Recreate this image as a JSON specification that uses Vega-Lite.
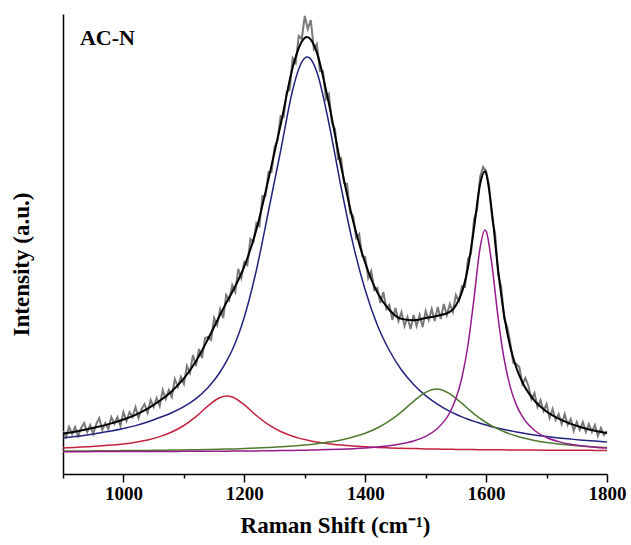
{
  "$schema": "https://vega.github.io/schema/vega-lite/v6.json",
  "width": 544,
  "height": 460,
  "autosize": {"type": "none"},
  "padding": {"left": 63, "top": 14, "right": 24, "bottom": 71},
  "background": "white",
  "config": {"view": {"stroke": null}, "font": "Liberation Serif"},
  "datasets": {
    "fit": [
      {"x":900,"Blue":36,"Red":26.1,"Green":23,"Purple":22.3,"Fit":40.4},
      {"x":920,"Blue":37.4,"Red":26.6,"Green":23,"Purple":22.3,"Fit":42.3},
      {"x":940,"Blue":39,"Red":27.2,"Green":23.1,"Purple":22.35,"Fit":44.7},
      {"x":960,"Blue":41,"Red":27.9,"Green":23.2,"Purple":22.4,"Fit":47.5},
      {"x":980,"Blue":43,"Red":28.9,"Green":23.3,"Purple":22.4,"Fit":50.6},
      {"x":1000,"Blue":45.5,"Red":30.1,"Green":23.4,"Purple":22.45,"Fit":54.5},
      {"x":1020,"Blue":48.4,"Red":31.8,"Green":23.5,"Purple":22.5,"Fit":59.2},
      {"x":1040,"Blue":52,"Red":34.1,"Green":23.6,"Purple":22.55,"Fit":65.3},
      {"x":1060,"Blue":56.5,"Red":37.4,"Green":23.7,"Purple":22.55,"Fit":73.2},
      {"x":1080,"Blue":61.3,"Red":42,"Green":23.9,"Purple":22.6,"Fit":82.8},
      {"x":1100,"Blue":67.3,"Red":48.5,"Green":24.1,"Purple":22.65,"Fit":95.6},
      {"x":1120,"Blue":75.4,"Red":57.4,"Green":24.3,"Purple":22.7,"Fit":112.8},
      {"x":1140,"Blue":86.6,"Red":68.1,"Green":24.5,"Purple":22.8,"Fit":135},
      {"x":1160,"Blue":102,"Red":76.5,"Green":24.8,"Purple":22.85,"Fit":159.2},
      {"x":1171,"Blue":113.3,"Red":78,"Green":25,"Purple":22.85,"Fit":172.1},
      {"x":1180,"Blue":124,"Red":77,"Green":25.1,"Purple":22.9,"Fit":182},
      {"x":1200,"Blue":157,"Red":69.1,"Green":25.5,"Purple":23,"Fit":207.6},
      {"x":1220,"Blue":204,"Red":58.5,"Green":25.9,"Purple":23.1,"Fit":244.5},
      {"x":1240,"Blue":263,"Red":49.3,"Green":26.5,"Purple":23.25,"Fit":295},
      {"x":1260,"Blue":323,"Red":42.5,"Green":27.2,"Purple":23.4,"Fit":349},
      {"x":1280,"Blue":384,"Red":37.8,"Green":28,"Purple":23.6,"Fit":406.4},
      {"x":1290,"Blue":405,"Red":35.9,"Green":28.45,"Purple":23.7,"Fit":426},
      {"x":1300,"Blue":416,"Red":34.4,"Green":29,"Purple":23.8,"Fit":436.2},
      {"x":1304,"Blue":417,"Red":33.9,"Green":29.2,"Purple":23.85,"Fit":437},
      {"x":1310,"Blue":414.8,"Red":33.1,"Green":29.6,"Purple":23.9,"Fit":434.4},
      {"x":1320,"Blue":402,"Red":32,"Green":30.3,"Purple":24.1,"Fit":421.4},
      {"x":1340,"Blue":350.5,"Red":30.3,"Green":31.9,"Purple":24.4,"Fit":370},
      {"x":1360,"Blue":287,"Red":29,"Green":34.1,"Purple":24.8,"Fit":308},
      {"x":1380,"Blue":229.6,"Red":28,"Green":37,"Purple":25.35,"Fit":253},
      {"x":1400,"Blue":184,"Red":27.2,"Green":40.8,"Purple":26.05,"Fit":211},
      {"x":1420,"Blue":149,"Red":26.6,"Green":46,"Purple":27,"Fit":181.6},
      {"x":1440,"Blue":123.5,"Red":26.1,"Green":53.1,"Purple":28.3,"Fit":164},
      {"x":1460,"Blue":104,"Red":25.7,"Green":62.2,"Purple":30.2,"Fit":155.1},
      {"x":1480,"Blue":89.6,"Red":25.4,"Green":72.7,"Purple":33,"Fit":153.7},
      {"x":1500,"Blue":78.4,"Red":25.1,"Green":81.7,"Purple":37.7,"Fit":155.9},
      {"x":1518,"Blue":70.4,"Red":24.9,"Green":85,"Purple":44.7,"Fit":158},
      {"x":1540,"Blue":62.7,"Red":24.7,"Green":80.2,"Purple":61.5,"Fit":162.1},
      {"x":1550,"Blue":59.8,"Red":24.6,"Green":75.7,"Purple":75.4,"Fit":168.5},
      {"x":1560,"Blue":57.1,"Red":24.5,"Green":70.6,"Purple":96.5,"Fit":181.7},
      {"x":1570,"Blue":54.7,"Red":24.45,"Green":65.3,"Purple":129,"Fit":206.5},
      {"x":1580,"Blue":52.6,"Red":24.4,"Green":60.2,"Purple":175.7,"Fit":245.9},
      {"x":1590,"Blue":50.7,"Red":24.35,"Green":55.6,"Purple":226.1,"Fit":289.8},
      {"x":1598,"Blue":49.2,"Red":24.3,"Green":52.3,"Purple":244,"Fit":302.8},
      {"x":1600,"Blue":48.9,"Red":24.3,"Green":51.5,"Purple":242.8,"Fit":300.5},
      {"x":1610,"Blue":47.3,"Red":24.25,"Green":47.9,"Purple":207.4,"Fit":259.9},
      {"x":1620,"Blue":45.8,"Red":24.2,"Green":44.9,"Purple":155.4,"Fit":203.3},
      {"x":1630,"Blue":44.4,"Red":24.15,"Green":42.2,"Purple":114.3,"Fit":158},
      {"x":1640,"Blue":43.2,"Red":24.1,"Green":39.9,"Purple":86.9,"Fit":127.1},
      {"x":1650,"Blue":42.1,"Red":24.05,"Green":38,"Purple":69.1,"Fit":106.3},
      {"x":1660,"Blue":41,"Red":24,"Green":36.3,"Purple":57.4,"Fit":91.7},
      {"x":1680,"Blue":39.1,"Red":23.9,"Green":33.6,"Purple":43.7,"Fit":73.3},
      {"x":1700,"Blue":37.5,"Red":23.85,"Green":31.6,"Purple":36.5,"Fit":62.5},
      {"x":1720,"Blue":36.1,"Red":23.8,"Green":30,"Purple":32.4,"Fit":55.3},
      {"x":1740,"Blue":34.9,"Red":23.7,"Green":28.8,"Purple":29.7,"Fit":50.1},
      {"x":1760,"Blue":33.8,"Red":23.7,"Green":27.8,"Purple":28,"Fit":46.3},
      {"x":1780,"Blue":32.9,"Red":23.6,"Green":27,"Purple":26.8,"Fit":43.3},
      {"x":1800,"Blue":32,"Red":23.6,"Green":26.4,"Purple":25.9,"Fit":40.9}
    ],
    "raw": [
      {"x":900,"y":43},{"x":905,"y":37},{"x":910,"y":47},{"x":915,"y":40},{"x":920,"y":47},{"x":925,"y":38},{"x":930,"y":46},{"x":935,"y":51},{"x":940,"y":42},{"x":945,"y":49},
      {"x":950,"y":40},{"x":955,"y":50},{"x":960,"y":56},{"x":965,"y":44},{"x":970,"y":51},{"x":975,"y":45},{"x":980,"y":57},{"x":985,"y":50},{"x":990,"y":57},{"x":995,"y":48},
      {"x":1000,"y":62},{"x":1005,"y":53},{"x":1010,"y":62},{"x":1015,"y":57},{"x":1020,"y":67},{"x":1025,"y":56},{"x":1030,"y":65},{"x":1035,"y":70},{"x":1040,"y":61},{"x":1045,"y":74},
      {"x":1050,"y":67},{"x":1055,"y":76},{"x":1060,"y":68},{"x":1065,"y":84},{"x":1070,"y":75},{"x":1075,"y":84},{"x":1080,"y":77},{"x":1085,"y":95},{"x":1090,"y":87},{"x":1095,"y":97},
      {"x":1100,"y":90},{"x":1105,"y":108},{"x":1110,"y":101},{"x":1115,"y":119},{"x":1120,"y":108},{"x":1125,"y":125},{"x":1130,"y":116},{"x":1135,"y":136},{"x":1140,"y":137},{"x":1145,"y":134},
      {"x":1150,"y":156},{"x":1155,"y":149},{"x":1160,"y":165},{"x":1165,"y":156},{"x":1170,"y":179},{"x":1175,"y":174},{"x":1180,"y":189},{"x":1185,"y":182},{"x":1190,"y":205},{"x":1195,"y":196},
      {"x":1200,"y":212},{"x":1205,"y":209},{"x":1210,"y":235},{"x":1215,"y":232},{"x":1220,"y":251},{"x":1225,"y":248},{"x":1230,"y":278},{"x":1235,"y":278},{"x":1240,"y":302},{"x":1245,"y":302},
      {"x":1250,"y":327},{"x":1255,"y":334},{"x":1260,"y":358},{"x":1265,"y":357},{"x":1270,"y":382},{"x":1275,"y":384},{"x":1280,"y":416},{"x":1285,"y":411},{"x":1290,"y":438},{"x":1295,"y":435},
      {"x":1300,"y":458},{"x":1305,"y":445},{"x":1310,"y":454},{"x":1315,"y":425},{"x":1320,"y":430},{"x":1325,"y":403},{"x":1330,"y":403},{"x":1335,"y":375},{"x":1340,"y":380},{"x":1345,"y":351},
      {"x":1350,"y":345},{"x":1355,"y":315},{"x":1360,"y":316},{"x":1365,"y":291},{"x":1370,"y":290},{"x":1375,"y":261},{"x":1380,"y":258},{"x":1385,"y":236},{"x":1390,"y":240},{"x":1395,"y":218},
      {"x":1400,"y":217},{"x":1405,"y":196},{"x":1410,"y":203},{"x":1415,"y":184},{"x":1420,"y":186},{"x":1425,"y":171},{"x":1430,"y":182},{"x":1435,"y":165},{"x":1440,"y":169},{"x":1445,"y":154},
      {"x":1450,"y":166},{"x":1455,"y":153},{"x":1460,"y":162},{"x":1465,"y":148},{"x":1470,"y":157},{"x":1475,"y":145},{"x":1480,"y":159},{"x":1485,"y":148},{"x":1490,"y":159},{"x":1495,"y":147},
      {"x":1500,"y":163},{"x":1505,"y":154},{"x":1510,"y":165},{"x":1515,"y":153},{"x":1520,"y":167},{"x":1525,"y":155},{"x":1530,"y":170},{"x":1535,"y":159},{"x":1540,"y":170},{"x":1545,"y":162},
      {"x":1550,"y":179},{"x":1555,"y":173},{"x":1560,"y":188},{"x":1565,"y":187},{"x":1570,"y":215},{"x":1575,"y":220},{"x":1580,"y":255},{"x":1585,"y":264},{"x":1590,"y":297},{"x":1595,"y":307},
      {"x":1600,"y":303},{"x":1605,"y":288},{"x":1610,"y":255},{"x":1615,"y":240},{"x":1620,"y":199},{"x":1625,"y":187},{"x":1630,"y":155},{"x":1635,"y":147},{"x":1640,"y":131},{"x":1645,"y":111},
      {"x":1650,"y":110},{"x":1655,"y":107},{"x":1660,"y":90},{"x":1665,"y":96},{"x":1670,"y":88},{"x":1675,"y":75},{"x":1680,"y":81},{"x":1685,"y":67},{"x":1690,"y":74},{"x":1695,"y":63},
      {"x":1700,"y":70},{"x":1705,"y":56},{"x":1710,"y":65},{"x":1715,"y":54},{"x":1720,"y":60},{"x":1725,"y":50},{"x":1730,"y":60},{"x":1735,"y":49},{"x":1740,"y":55},{"x":1745,"y":43},
      {"x":1750,"y":52},{"x":1755,"y":44},{"x":1760,"y":52},{"x":1765,"y":42},{"x":1770,"y":50},{"x":1775,"y":42},{"x":1780,"y":49},{"x":1785,"y":38},{"x":1790,"y":46},{"x":1795,"y":39},
      {"x":1800,"y":43}
    ],
    "label": [{"x": 928, "y": 436, "t": "AC-N"}]
  },
  "layer": [
    {
      "data": {"name": "raw"},
      "mark": {"type": "line", "color": "#7a7a7a", "strokeWidth": 2, "clip": true},
      "encoding": {
        "x": {
          "field": "x", "type": "quantitative",
          "scale": {"domain": [900, 1800], "nice": false, "zero": false},
          "axis": {
            "title": "Raman Shift (cm⁻¹)",
            "values": [900, 1000, 1100, 1200, 1300, 1400, 1500, 1600, 1700, 1800],
            "format": "d",
            "labelExpr": "datum.value % 200 == 0 ? datum.label : ''",
            "labelFlush": false,
            "labelOverlap": false,
            "grid": false,
            "domainColor": "#000000",
            "domainWidth": 1.5,
            "tickColor": "#000000",
            "tickWidth": 1.5,
            "tickSize": {"condition": {"test": "datum.value % 200 == 0", "value": 8}, "value": 4},
            "labelPadding": 2,
            "labelFont": "Liberation Serif",
            "labelFontWeight": "bold",
            "labelFontSize": 19,
            "labelColor": "#000000",
            "titleFont": "Liberation Serif",
            "titleFontWeight": "bold",
            "titleFontSize": 23,
            "titleColor": "#000000",
            "titlePadding": 11
          }
        },
        "y": {
          "field": "y", "type": "quantitative",
          "scale": {"domain": [0, 460], "nice": false},
          "axis": {
            "title": "Intensity (a.u.)",
            "ticks": false,
            "labels": false,
            "grid": false,
            "domainColor": "#000000",
            "domainWidth": 1.5,
            "titleFont": "Liberation Serif",
            "titleFontWeight": "bold",
            "titleFontSize": 23,
            "titleColor": "#000000",
            "titlePadding": 30,
            "titleY": 250
          }
        }
      }
    },
    {
      "data": {"name": "fit"},
      "transform": [{"fold": ["Blue", "Red", "Green", "Purple"], "as": ["comp", "val"]}],
      "mark": {"type": "line", "strokeWidth": 1.5, "interpolate": "monotone"},
      "encoding": {
        "x": {"field": "x", "type": "quantitative"},
        "y": {"field": "val", "type": "quantitative"},
        "color": {
          "field": "comp", "type": "nominal",
          "scale": {"domain": ["Blue", "Red", "Green", "Purple"], "range": ["#23237e", "#c3223f", "#4f7a2e", "#951a8c"]},
          "legend": null
        }
      }
    },
    {
      "data": {"name": "fit"},
      "mark": {"type": "line", "strokeWidth": 2, "color": "#000000", "interpolate": "monotone"},
      "encoding": {
        "x": {"field": "x", "type": "quantitative"},
        "y": {"field": "Fit", "type": "quantitative"}
      }
    },
    {
      "data": {"name": "label"},
      "mark": {"type": "text", "align": "left", "baseline": "middle", "font": "Liberation Serif", "fontWeight": "bold", "fontSize": 22, "color": "#000000"},
      "encoding": {
        "x": {"field": "x", "type": "quantitative"},
        "y": {"field": "y", "type": "quantitative"},
        "text": {"field": "t"}
      }
    }
  ]
}
